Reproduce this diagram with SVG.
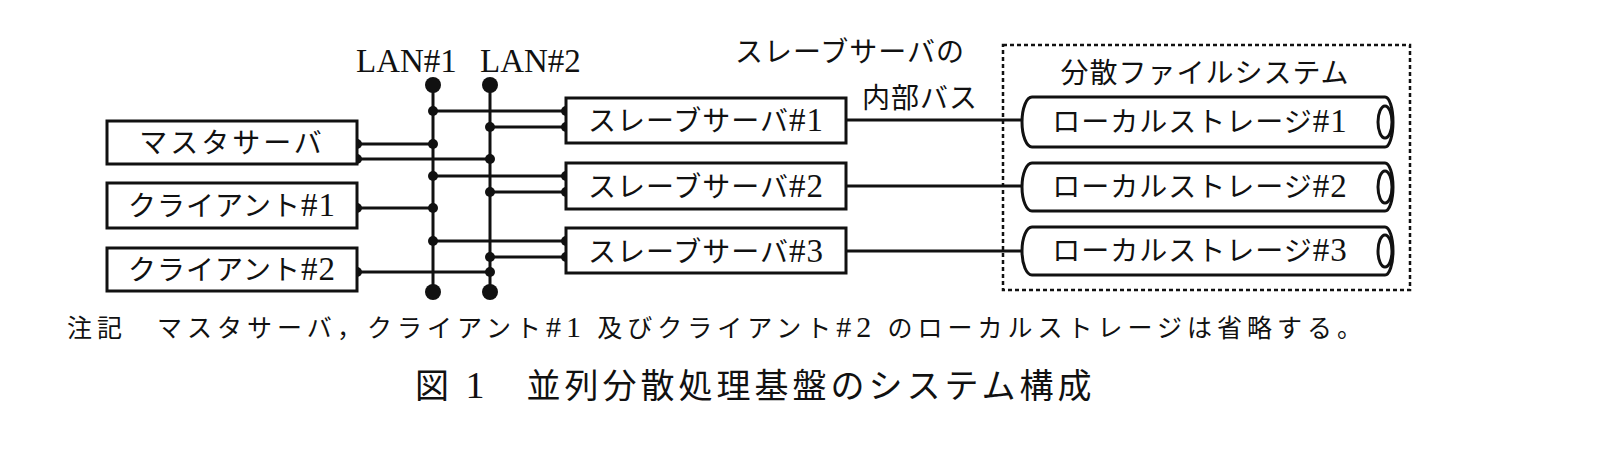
<svg xmlns="http://www.w3.org/2000/svg" width="1614" height="460" viewBox="0 0 1614 460">
<style>
.b{fill:#fff;stroke:#111;stroke-width:3}
.l{stroke:#111;stroke-width:3;fill:none}
.t{font-family:"Liberation Serif","Noto Sans CJK JP",serif;font-size:28px;fill:#111;letter-spacing:1px}
.n{font-size:33px}
.d{fill:#111}
</style>
<rect width="1614" height="460" fill="#fff"/>
<rect x="1003" y="45" width="407" height="245" fill="none" stroke="#111" stroke-width="2.5" stroke-dasharray="4,3"/>
<g id="connectors">
<line class="l" x1="433" y1="85" x2="433" y2="292"/>
<line class="l" x1="490" y1="85" x2="490" y2="292"/>
<line class="l" x1="433" y1="111" x2="566" y2="111"/>
<line class="l" x1="490" y1="127" x2="566" y2="127"/>
<line class="l" x1="357" y1="144" x2="433" y2="144"/>
<line class="l" x1="357" y1="159" x2="490" y2="159"/>
<line class="l" x1="433" y1="176" x2="566" y2="176"/>
<line class="l" x1="490" y1="192" x2="566" y2="192"/>
<line class="l" x1="357" y1="208" x2="433" y2="208"/>
<line class="l" x1="433" y1="241" x2="566" y2="241"/>
<line class="l" x1="490" y1="257" x2="566" y2="257"/>
<line class="l" x1="357" y1="272" x2="490" y2="272"/>
<line class="l" x1="846" y1="120" x2="1022" y2="120"/>
<line class="l" x1="846" y1="186" x2="1022" y2="186"/>
<line class="l" x1="846" y1="251" x2="1022" y2="251"/>
<g class="d">
<circle cx="433" cy="85" r="8"/><circle cx="490" cy="85" r="8"/>
<circle cx="433" cy="292" r="8"/><circle cx="490" cy="292" r="8"/>
<circle cx="433" cy="111" r="5"/><circle cx="566" cy="111" r="5"/>
<circle cx="490" cy="127" r="5"/><circle cx="566" cy="127" r="5"/>
<circle cx="357" cy="144" r="5"/><circle cx="433" cy="144" r="5"/>
<circle cx="357" cy="159" r="5"/><circle cx="490" cy="159" r="5"/>
<circle cx="433" cy="176" r="5"/><circle cx="566" cy="176" r="5"/>
<circle cx="490" cy="192" r="5"/><circle cx="566" cy="192" r="5"/>
<circle cx="357" cy="208" r="5"/><circle cx="433" cy="208" r="5"/>
<circle cx="433" cy="241" r="5"/><circle cx="566" cy="241" r="5"/>
<circle cx="490" cy="257" r="5"/><circle cx="566" cy="257" r="5"/>
<circle cx="357" cy="272" r="5"/><circle cx="490" cy="272" r="5"/>
</g>
</g>
<text class="t n" x="356" y="72" style="letter-spacing:0">LAN#1</text>
<text class="t n" x="480" y="72" style="letter-spacing:0">LAN#2</text>
<text class="t" x="735" y="62">スレーブサーバの</text>
<text class="t" x="862" y="108">内部バス</text>
<text class="t" x="1205" y="83" text-anchor="middle">分散ファイルシステム</text>
<g id="master"><rect class="b" x="107" y="121" width="250" height="43"/><text class="t" x="232" y="153" text-anchor="middle" style="letter-spacing:3px">マスタサーバ</text></g>
<g id="client1"><rect class="b" x="107" y="183" width="250" height="45"/><text class="t" x="232" y="216" text-anchor="middle">クライアント<tspan class="n">#1</tspan></text></g>
<g id="client2"><rect class="b" x="107" y="248" width="250" height="43"/><text class="t" x="232" y="280" text-anchor="middle">クライアント<tspan class="n">#2</tspan></text></g>
<g id="slave1"><rect class="b" x="566" y="98" width="280" height="45"/><text class="t" x="706" y="131" text-anchor="middle">スレーブサーバ<tspan class="n">#1</tspan></text></g>
<g id="slave2"><rect class="b" x="566" y="163" width="280" height="46"/><text class="t" x="706" y="197" text-anchor="middle">スレーブサーバ<tspan class="n">#2</tspan></text></g>
<g id="slave3"><rect class="b" x="566" y="228" width="280" height="45"/><text class="t" x="706" y="262" text-anchor="middle">スレーブサーバ<tspan class="n">#3</tspan></text></g>
<g id="storage1"><path class="b" d="M1032,97 H1385 A8,25 0 0 1 1385,147 H1032 A10,25 0 0 1 1032,97 Z"/><ellipse class="l" cx="1385" cy="122" rx="7" ry="16"/><text class="t" x="1200" y="132" text-anchor="middle">ローカルストレージ<tspan class="n">#1</tspan></text></g>
<g id="storage2"><path class="b" d="M1032,163 H1385 A8,24 0 0 1 1385,211 H1032 A10,24 0 0 1 1032,163 Z"/><ellipse class="l" cx="1385" cy="187" rx="7" ry="16"/><text class="t" x="1200" y="197" text-anchor="middle">ローカルストレージ<tspan class="n">#2</tspan></text></g>
<g id="storage3"><path class="b" d="M1032,227 H1385 A8,24 0 0 1 1385,275 H1032 A10,24 0 0 1 1032,227 Z"/><ellipse class="l" cx="1385" cy="251" rx="7" ry="16"/><text class="t" x="1200" y="261" text-anchor="middle">ローカルストレージ<tspan class="n">#3</tspan></text></g>
<text class="t" x="67" y="337" style="font-size:25px;letter-spacing:5px">注記　マスタサーバ，クライアント<tspan style="font-size:30px">#1</tspan> 及びクライアント<tspan style="font-size:30px">#2</tspan> のローカルストレージは省略する。</text>
<text class="t" x="415" y="398" style="font-size:34px;letter-spacing:4px">図 <tspan style="font-size:38px">1</tspan>　並列分散処理基盤のシステム構成</text>
</svg>
